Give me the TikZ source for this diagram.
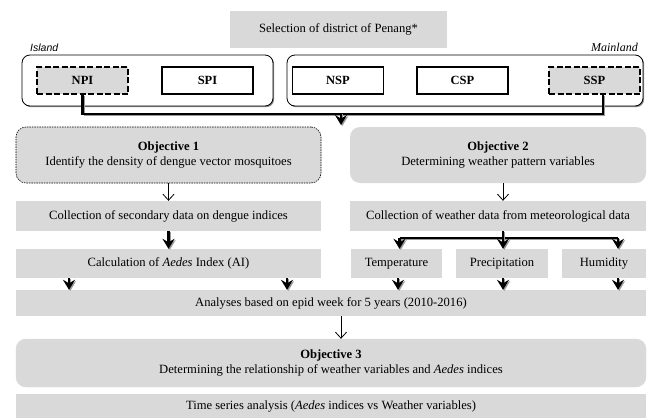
\documentclass[tikz,border=0pt]{standalone}
\usepackage{fontspec}
\setmainfont{Liberation Serif}
\newfontfamily\arialf{Liberation Sans}
\usetikzlibrary{arrows.meta,shadows,calc}
\definecolor{boxgray}{HTML}{D9D9D9}
\tikzset{
  gbox/.style={fill=boxgray, draw=none, inner sep=0pt, align=center},
  objbox/.style={gbox, rounded corners=10pt},
  group/.style={draw, rounded corners=8pt, line width=0.8pt, fill=white, inner sep=0pt,
     drop shadow={shadow xshift=1.2pt, shadow yshift=-1.2pt, fill=black!45, opacity=1}},
  sbox/.style={draw, line width=1.8pt, fill=white, inner sep=0pt, font=\bfseries\fontsize{12.5}{14}\selectfont,
     minimum width=91pt, minimum height=27pt},
  dbox/.style={sbox, fill=boxgray, dash pattern=on 6pt off 2.5pt},
  thinarr/.style={-{Straight Barb[length=6pt,width=11pt]}, line width=0.8pt},
  shd/.style={preaction={draw=black!40, transform canvas={shift={(1.2pt,-1.2pt)}}}},
  thk/.style={line width=2.2pt, shd},
  thkarr/.style={thk, -{Stealth[length=10pt,width=12pt,inset=3.5pt]}},
}
\begin{document}
\begin{tikzpicture}[x=1pt,y=-1pt, font=\fontsize{12.6}{15}\selectfont]
\useasboundingbox (0,0) rectangle (653,418);
% top
\node[gbox, minimum width=217pt, minimum height=37pt] (sel) at (338.5,29.5) {Selection of district of Penang*};
\node[group, minimum width=251pt, minimum height=51pt] (island) at (147.5,80.5) {};
\node[group, minimum width=356pt, minimum height=51pt] (main) at (465,80.5) {};
\node[anchor=west, inner sep=0pt, font=\arialf\itshape\fontsize{10.5}{12}\selectfont] (islandlbl) at (30,47.5) {Island};
\node[anchor=east, inner sep=0pt, font=\itshape\fontsize{12}{13}\selectfont] (mainlbl) at (638,47.5) {Mainland};
\node[dbox] (NPI) at (82.5,80.5) {NPI};
\node[sbox] (SPI) at (207.5,80.5) {SPI};
\node[sbox] (NSP) at (338,80.5) {NSP};
\node[sbox] (CSP) at (462.5,80.5) {CSP};
\node[dbox] (SSP) at (594.5,80.5) {SSP};
\coordinate (sspb) at ($(SSP.south)+(8.5,0)$);
\coordinate (jn) at (341,113);
\coordinate (jt) at (341,125);
\draw[thk, line join=miter] (NPI.south) -- ++(0,19) -| (sspb);
\draw[thkarr] (jn) -- (jt);
% objectives
\node[objbox, draw=black, dash pattern=on 1.5pt off 1pt, line width=0.6pt, minimum width=305pt, minimum height=56pt] (obj1) at (168.5,155)
  {\textbf{Objective 1}\\Identify the density of dengue vector mosquitoes};
\node[objbox, minimum width=296pt, minimum height=56pt] (obj2) at (498,155)
  {\textbf{Objective 2}\\Determining weather pattern variables};
\node[gbox, minimum width=305pt, minimum height=30pt] (CS) at (168.5,216) {Collection of secondary data on dengue indices};
\node[gbox, minimum width=296pt, minimum height=30pt] (CW) at (498,216) {Collection of weather data from meteorological data};
\draw[thinarr] (obj1) -- (CS);
\draw[thinarr] (obj2.south -| 503,0) -- (CW.north -| 503,0);
\node[gbox, minimum width=305pt, minimum height=29pt] (Calc) at (168.5,263.5) {Calculation of \textit{Aedes} Index (AI)};
\node[gbox, minimum width=91pt, minimum height=29pt] (Temp) at (396.5,263.5) {Temperature};
\node[gbox, minimum width=92pt, minimum height=29pt] (Prec) at (502,263.5) {Precipitation};
\node[gbox, minimum width=84pt, minimum height=29pt] (Hum) at (604,263.5) {Humidity};
\draw[thkarr] (CS) -- (Calc);
\coordinate (hb) at ($(CW.south)+(0,7)$);
\coordinate (ta) at ($(Temp.north)+(3,0)$);
\coordinate (pa) at ($(Prec.north)+(1,0)$);
\coordinate (ha) at ($(Hum.north)+(14,0)$);
\draw[thk] (ta |- hb) -- (ha |- hb);
\draw[thkarr] (ta |- hb) -- (ta);
\draw[thkarr] (pa |- CW.south) -- (pa);
\draw[thkarr] (ha |- hb) -- (ha);
% analyses
\node[gbox, minimum width=630pt, minimum height=26pt] (Ana) at (331,303) {Analyses based on epid week for 5 years (2010-2016)};
\coordinate (c1) at ($(Calc.south)+(-99.5,0)$);
\coordinate (c2) at ($(Calc.south)+(118.5,0)$);
\coordinate (t1) at ($(Temp.south)+(1.5,0)$);
\coordinate (p1) at ($(Prec.south)+(1,0)$);
\coordinate (h1) at ($(Hum.south)+(14,0)$);
\foreach \c in {c1,c2,t1,p1,h1} {\draw[thkarr] (\c) -- (\c |- Ana.north);}
\node[objbox, draw=black!15, line width=0.4pt, minimum width=630pt, minimum height=48pt] (obj3) at (331,363)
  {\textbf{Objective 3}\\Determining the relationship of weather variables and \textit{Aedes} indices};
\draw[thinarr] (Ana.south -| 341,0) -- (obj3.north -| 341,0);
\node[gbox, minimum width=630pt, minimum height=24pt] (TS) at (331,406) {Time series analysis (\textit{Aedes} indices vs Weather variables)};
\end{tikzpicture}
\end{document}
